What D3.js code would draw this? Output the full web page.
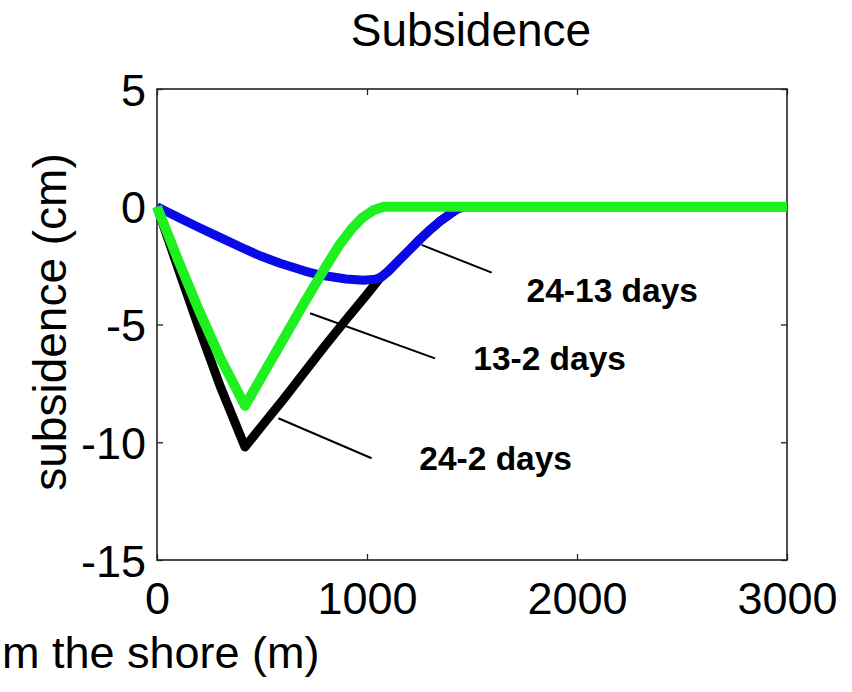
<!DOCTYPE html>
<html>
<head>
<meta charset="utf-8">
<script src="https://cdn.jsdelivr.net/npm/d3@7"></script>
<style>
  html, body { margin: 0; padding: 0; background: #fff; }
  svg { display: block; }
  text { font-family: "Liberation Sans", Arial, Helvetica, sans-serif; fill: #000; }
</style>
</head>
<body>
<svg id="chart" width="852" height="692"></svg>
<script>
// ---- data ----
const title = "Subsidence";
const xLabel = "m the shore (m)";   // visible part of the (cropped) x-axis label
const yLabel = "subsidence (cm)";
const xTicks = [0, 1000, 2000, 3000];
const yTicks = [5, 0, -5, -10, -15];
const xDomain = [0, 3000];
const yDomain = [-15, 5];

// 24-2 days (black)
const x24_2 = [0, 100, 200, 300, 419, 500, 600, 700, 800, 900, 1000, 1062, 1100, 1150, 1200, 1250, 1300, 1350, 1400, 1430, 1460, 3000];
const y24_2 = [0, -2.6, -5.15, -7.6, -10.2, -9.3, -8.2, -7.05, -5.9, -4.8, -3.72, -3.02, -2.75, -2.3, -1.85, -1.4, -0.98, -0.6, -0.28, -0.1, 0, 0];
// 24-13 days (blue)
const x24_13 = [0, 100, 200, 300, 400, 490, 586, 700, 776, 900, 983, 1040, 1070, 1100, 1150, 1200, 1250, 1300, 1350, 1400, 1430, 1460, 3000];
const y24_13 = [0, -0.45, -0.88, -1.3, -1.72, -2.08, -2.40, -2.72, -2.90, -3.07, -3.12, -3.08, -2.98, -2.75, -2.3, -1.85, -1.4, -0.98, -0.6, -0.28, -0.1, 0, 0];
// 13-2 days (green)
const x13_2 = [0, 100, 200, 300, 419, 500, 600, 700, 800, 870, 930, 980, 1030, 1080, 3000];
const y13_2 = [0, -2.25, -4.4, -6.4, -8.45, -7.2, -5.65, -4.1, -2.6, -1.6, -0.9, -0.45, -0.15, 0, 0];

// annotations: label, leader line start/end and text anchor (data units)
const annLabels = ["24-13 days", "13-2 days", "24-2 days"];
const annLineX1 = [1260, 729, 578];
const annLineY1 = [-1.62, -4.52, -8.98];
const annLineX2 = [1594, 1324, 1022];
const annLineY2 = [-2.80, -6.44, -10.68];
const annTextX = [1760, 1506, 1249];
const annTextY = [-4.03, -6.93, -11.18];

// ---- layout ----
const svg = d3.select("#chart");
const mLeft = 157, mRight = 787, mTop = 89, mBottom = 560;
const x = d3.scaleLinear().domain(xDomain).range([mLeft, mRight]);
const y = d3.scaleLinear().domain(yDomain).range([mBottom, mTop]);

// title
svg.append("text").attr("x", 471).attr("y", 46)
  .attr("text-anchor", "middle").attr("font-size", 46).text(title);

// axes (inner ticks)
const xAxis = d3.axisBottom(x).tickValues(xTicks).tickSize(-6).tickFormat(d3.format("d"));
const yAxis = d3.axisLeft(y).tickValues(yTicks).tickSize(-6).tickFormat(d => d < 0 ? "-" + Math.abs(d) : d);

const gx = svg.append("g").attr("transform", `translate(0,${mBottom})`).call(xAxis);
const gy = svg.append("g").attr("transform", `translate(${mLeft},0)`).call(yAxis);
[gx, gy].forEach(g => {
  g.select(".domain").remove();
  g.selectAll(".tick line").attr("stroke", "#222").attr("stroke-width", 1.3);
  g.selectAll(".tick text").attr("font-size", 45).attr("fill", "#000")
    .style("font-family", "'Liberation Sans', Arial, sans-serif");
});
gx.selectAll(".tick text").attr("dy", "0.71em").attr("y", 22);
gy.selectAll(".tick text").attr("dy", "0.36em").attr("x", -11);

// right/top ticks (MATLAB style, inside)
svg.append("g").attr("transform", `translate(${mRight},0)`)
  .call(d3.axisRight(y).tickValues(yTicks).tickSize(-6).tickFormat(""))
  .call(g => { g.select(".domain").remove(); g.selectAll(".tick line").attr("stroke", "#222").attr("stroke-width", 1.3); });
svg.append("g").attr("transform", `translate(0,${mTop})`)
  .call(d3.axisTop(x).tickValues(xTicks).tickSize(-6).tickFormat(""))
  .call(g => { g.select(".domain").remove(); g.selectAll(".tick line").attr("stroke", "#222").attr("stroke-width", 1.3); });

// box
svg.append("rect").attr("x", mLeft).attr("y", mTop).attr("width", mRight - mLeft).attr("height", mBottom - mTop)
  .attr("fill", "none").attr("stroke", "#222").attr("stroke-width", 1.6);

// axis labels
svg.append("text").attr("x", 2).attr("y", 668).attr("text-anchor", "start")
  .attr("font-size", 45).text(xLabel);
svg.append("text").attr("transform", "translate(66,322) rotate(-90)")
  .attr("text-anchor", "middle").attr("font-size", 46).text(yLabel);

// lines
const line = d3.line().x(d => x(d[0])).y(d => y(d[1])).curve(d3.curveLinear);
const series = [
  { xs: x24_2, ys: y24_2, color: "#000000", w: 9 },
  { xs: x24_13, ys: y24_13, color: "#0a0ae8", w: 9 },
  { xs: x13_2, ys: y13_2, color: "#1ff01f", w: 10 }
];
const plot = svg.append("g");
series.forEach(s => {
  plot.append("path").datum(d3.zip(s.xs, s.ys))
    .attr("d", line).attr("fill", "none").attr("stroke", s.color)
    .attr("stroke-width", s.w).attr("stroke-linejoin", "round").attr("stroke-linecap", "butt");
});

// annotations
annLabels.forEach((lab, i) => {
  svg.append("line")
    .attr("x1", x(annLineX1[i])).attr("y1", y(annLineY1[i]))
    .attr("x2", x(annLineX2[i])).attr("y2", y(annLineY2[i]))
    .attr("stroke", "#000").attr("stroke-width", 2);
  svg.append("text").attr("x", x(annTextX[i])).attr("y", y(annTextY[i]))
    .attr("font-size", 33.5).attr("font-weight", "bold").text(lab);
});
</script>
</body>
</html>
